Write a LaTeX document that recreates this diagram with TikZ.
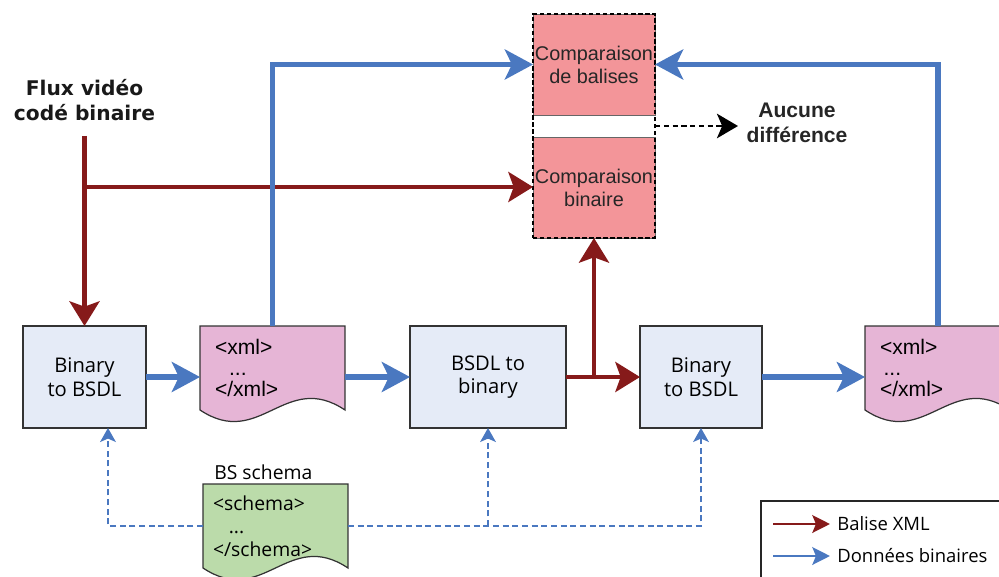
\documentclass[tikz,border=0pt]{standalone}
\usepackage{fontspec}
\setmainfont{Liberation Sans}
\newfontfamily\humanSans{Open Sans}
\newfontfamily\heavySans{DejaVu Sans}
\usetikzlibrary{positioning,arrows.meta,calc,fit,backgrounds}
\definecolor{xmlRed}{HTML}{861A1A}
\definecolor{binBlue}{HTML}{4A78C0}
\definecolor{procFill}{HTML}{E5EBF7}
\definecolor{docPink}{HTML}{E6B5D6}
\definecolor{docGreen}{HTML}{BBDBAA}
\definecolor{cmpPink}{HTML}{F39599}

% wavy document outline drawn round a named node
\newcommand{\docShape}[2]{%
  \path[docLine, fill=#2] (#1.north west) -- (#1.north east) -- (#1.south east)
    .. controls +(-60,-40) and +(60,40) .. (#1.south west) -- cycle;}

\begin{document}
\begin{tikzpicture}[
    x=0.02cm, y=-0.02cm,
    procBox/.style={rectangle, draw=black!80, fill=procFill, line width=0.8pt, inner sep=0pt, outer sep=0pt, minimum height=2.04cm, align=center, font=\humanSans\fontsize{11.5}{13.5}\selectfont},
    cmpBox/.style={rectangle, draw=black!60, fill=cmpPink, line width=0.5pt, inner sep=0pt, outer sep=0pt, minimum width=2.44cm, minimum height=2.02cm, align=center, font=\fontsize{11.3}{13}\selectfont, text=black!85},
    cmpFrame/.style={rectangle, draw=black, line width=1.1pt, dash pattern=on 2.5pt off 1.5pt, inner sep=0pt},
    docNode/.style={rectangle, inner sep=0pt, outer sep=0pt, minimum width=2.9cm, minimum height=1.68cm, text width=2.3cm, align=left},
    docLine/.style={draw=black!80, line width=0.7pt},
    redArrow/.style={-{Stealth[length=14pt, width=17pt, inset=3pt]}, line width=2.8pt, draw=xmlRed},
    blueArrow/.style={-{Stealth[length=16pt, width=17pt, inset=4pt]}, line width=3.4pt, draw=binBlue},
    schemaArrow/.style={-{Stealth[length=8pt, width=9pt, inset=2pt]}, line width=0.8pt, draw=binBlue, dash pattern=on 3.5pt off 2pt},
    diffArrow/.style={-{Stealth[length=12pt, width=14pt, inset=3pt]}, line width=1.1pt, draw=black, dash pattern=on 3pt off 2pt},
    boldLabel/.style={align=center, font=\bfseries\fontsize{12}{14}\selectfont, text=black!85}
]
    \useasboundingbox (0,0) rectangle (999,577);

    % chaine de traitement
    \node[procBox, minimum width=2.46cm] (b2bA) at (84.5,377) {Binary\\to BSDL};
    \node[docNode, font=\fontsize{12}{11.8}\selectfont] (xmlA) at (272.5,368) {<xml>\\\hspace*{8pt}...\\</xml>};
    \node[procBox, minimum width=3.12cm] (bsdl) at (488,377) {BSDL to\\binary};
    \node[procBox, minimum width=2.44cm] (b2bB) at (701,377) {Binary\\to BSDL};
    \node[docNode, font=\fontsize{12}{11.8}\selectfont] (xmlB) at (937.5,368) {<xml>\\\hspace*{2pt}...\\</xml>};

    % comparaisons
    \node[cmpBox] (cmpA) at (594,64.5) {Comparaison\\de balises};
    \node[cmpBox] (cmpB) at (594,187.5) {Comparaison\\binaire};
    \node[cmpFrame, fit=(cmpA)(cmpB)] (cmpAll) {};
    \node[boldLabel] (aucune) at (797,123) {Aucune\\différence};

    % entree
    \node[align=center, font=\heavySans\bfseries\fontsize{11.5}{14.5}\selectfont, text=black!90] (flux) at (84.5,100) {Flux vidéo\\codé binaire};
    \coordinate (fluxSplit) at (84.5,187);

    % schema
    \node[docNode, font=\humanSans\fontsize{11}{13}\selectfont, text width=2.5cm] (schema) at (275.5,526) {<schema>\\\hspace*{9pt}...\\</schema>};
    \node[anchor=south west, inner sep=0pt, font=\humanSans\fontsize{11}{12}\selectfont] (schemaTitle) at (214,480) {BS schema};

    % documents en fond
    \begin{scope}[on background layer]
        \docShape{xmlA}{docPink}
        \docShape{xmlB}{docPink}
        \docShape{schema}{docGreen}
    \end{scope}

    % fleches rouges
    \draw[redArrow, shorten <=5pt] (flux) -- (b2bA);
    \draw[redArrow] (fluxSplit) -- (fluxSplit -| cmpB.west);
    \draw[redArrow] (bsdl.east) -- (b2bB.west);
    \draw[redArrow] (bsdl.east -| cmpB.south) -- (cmpB.south);

    % fleches bleues
    \draw[blueArrow] (b2bA.east) -- (b2bA.east -| xmlA.west);
    \draw[blueArrow] (xmlA.east |- bsdl.west) -- (bsdl.west);
    \draw[blueArrow] (b2bB.east) -- (b2bB.east -| xmlB.west);
    \draw[blueArrow] (xmlA.north) |- (cmpA.west);
    \draw[blueArrow] (xmlB.north) |- (cmpA.east);

    % resultat
    \draw[diffArrow] ($(cmpA.south east)!.5!(cmpB.north east)$) -- ++(83,0);

    % liens vers le schema
    \draw[schemaArrow] (schema.west) -| ([xshift=0.47cm]b2bA.south);
    \draw[schemaArrow] (schema.east) -| (b2bB.south);
    \draw[schemaArrow] (schema.east -| bsdl.south) -- (bsdl.south);

    % legende
    \node[rectangle, draw=black!85, line width=0.7pt, minimum width=5.04cm, minimum height=1.78cm, inner sep=0pt] (legend) at (887,545.5) {};
    \node[anchor=west, inner sep=0pt, font=\humanSans\fontsize{10.5}{12}\selectfont] (lgXml) at (837,524) {Balise XML};
    \node[anchor=west, inner sep=0pt, font=\humanSans\fontsize{10.5}{12}\selectfont] (lgBin) at (837,556) {Données binaires};
    \coordinate (lgXmlStart) at (773,524);
    \coordinate (lgBinStart) at (773,556);
    \draw[-{Stealth[length=10pt, width=10pt, inset=2pt]}, line width=1.7pt, draw=xmlRed] (lgXmlStart) -- ([xshift=-4pt]lgXml.west);
    \draw[-{Stealth[length=10pt, width=10pt, inset=2pt]}, line width=1.7pt, draw=binBlue] (lgBinStart) -- ([xshift=-4pt]lgBin.west);
\end{tikzpicture}
\end{document}
